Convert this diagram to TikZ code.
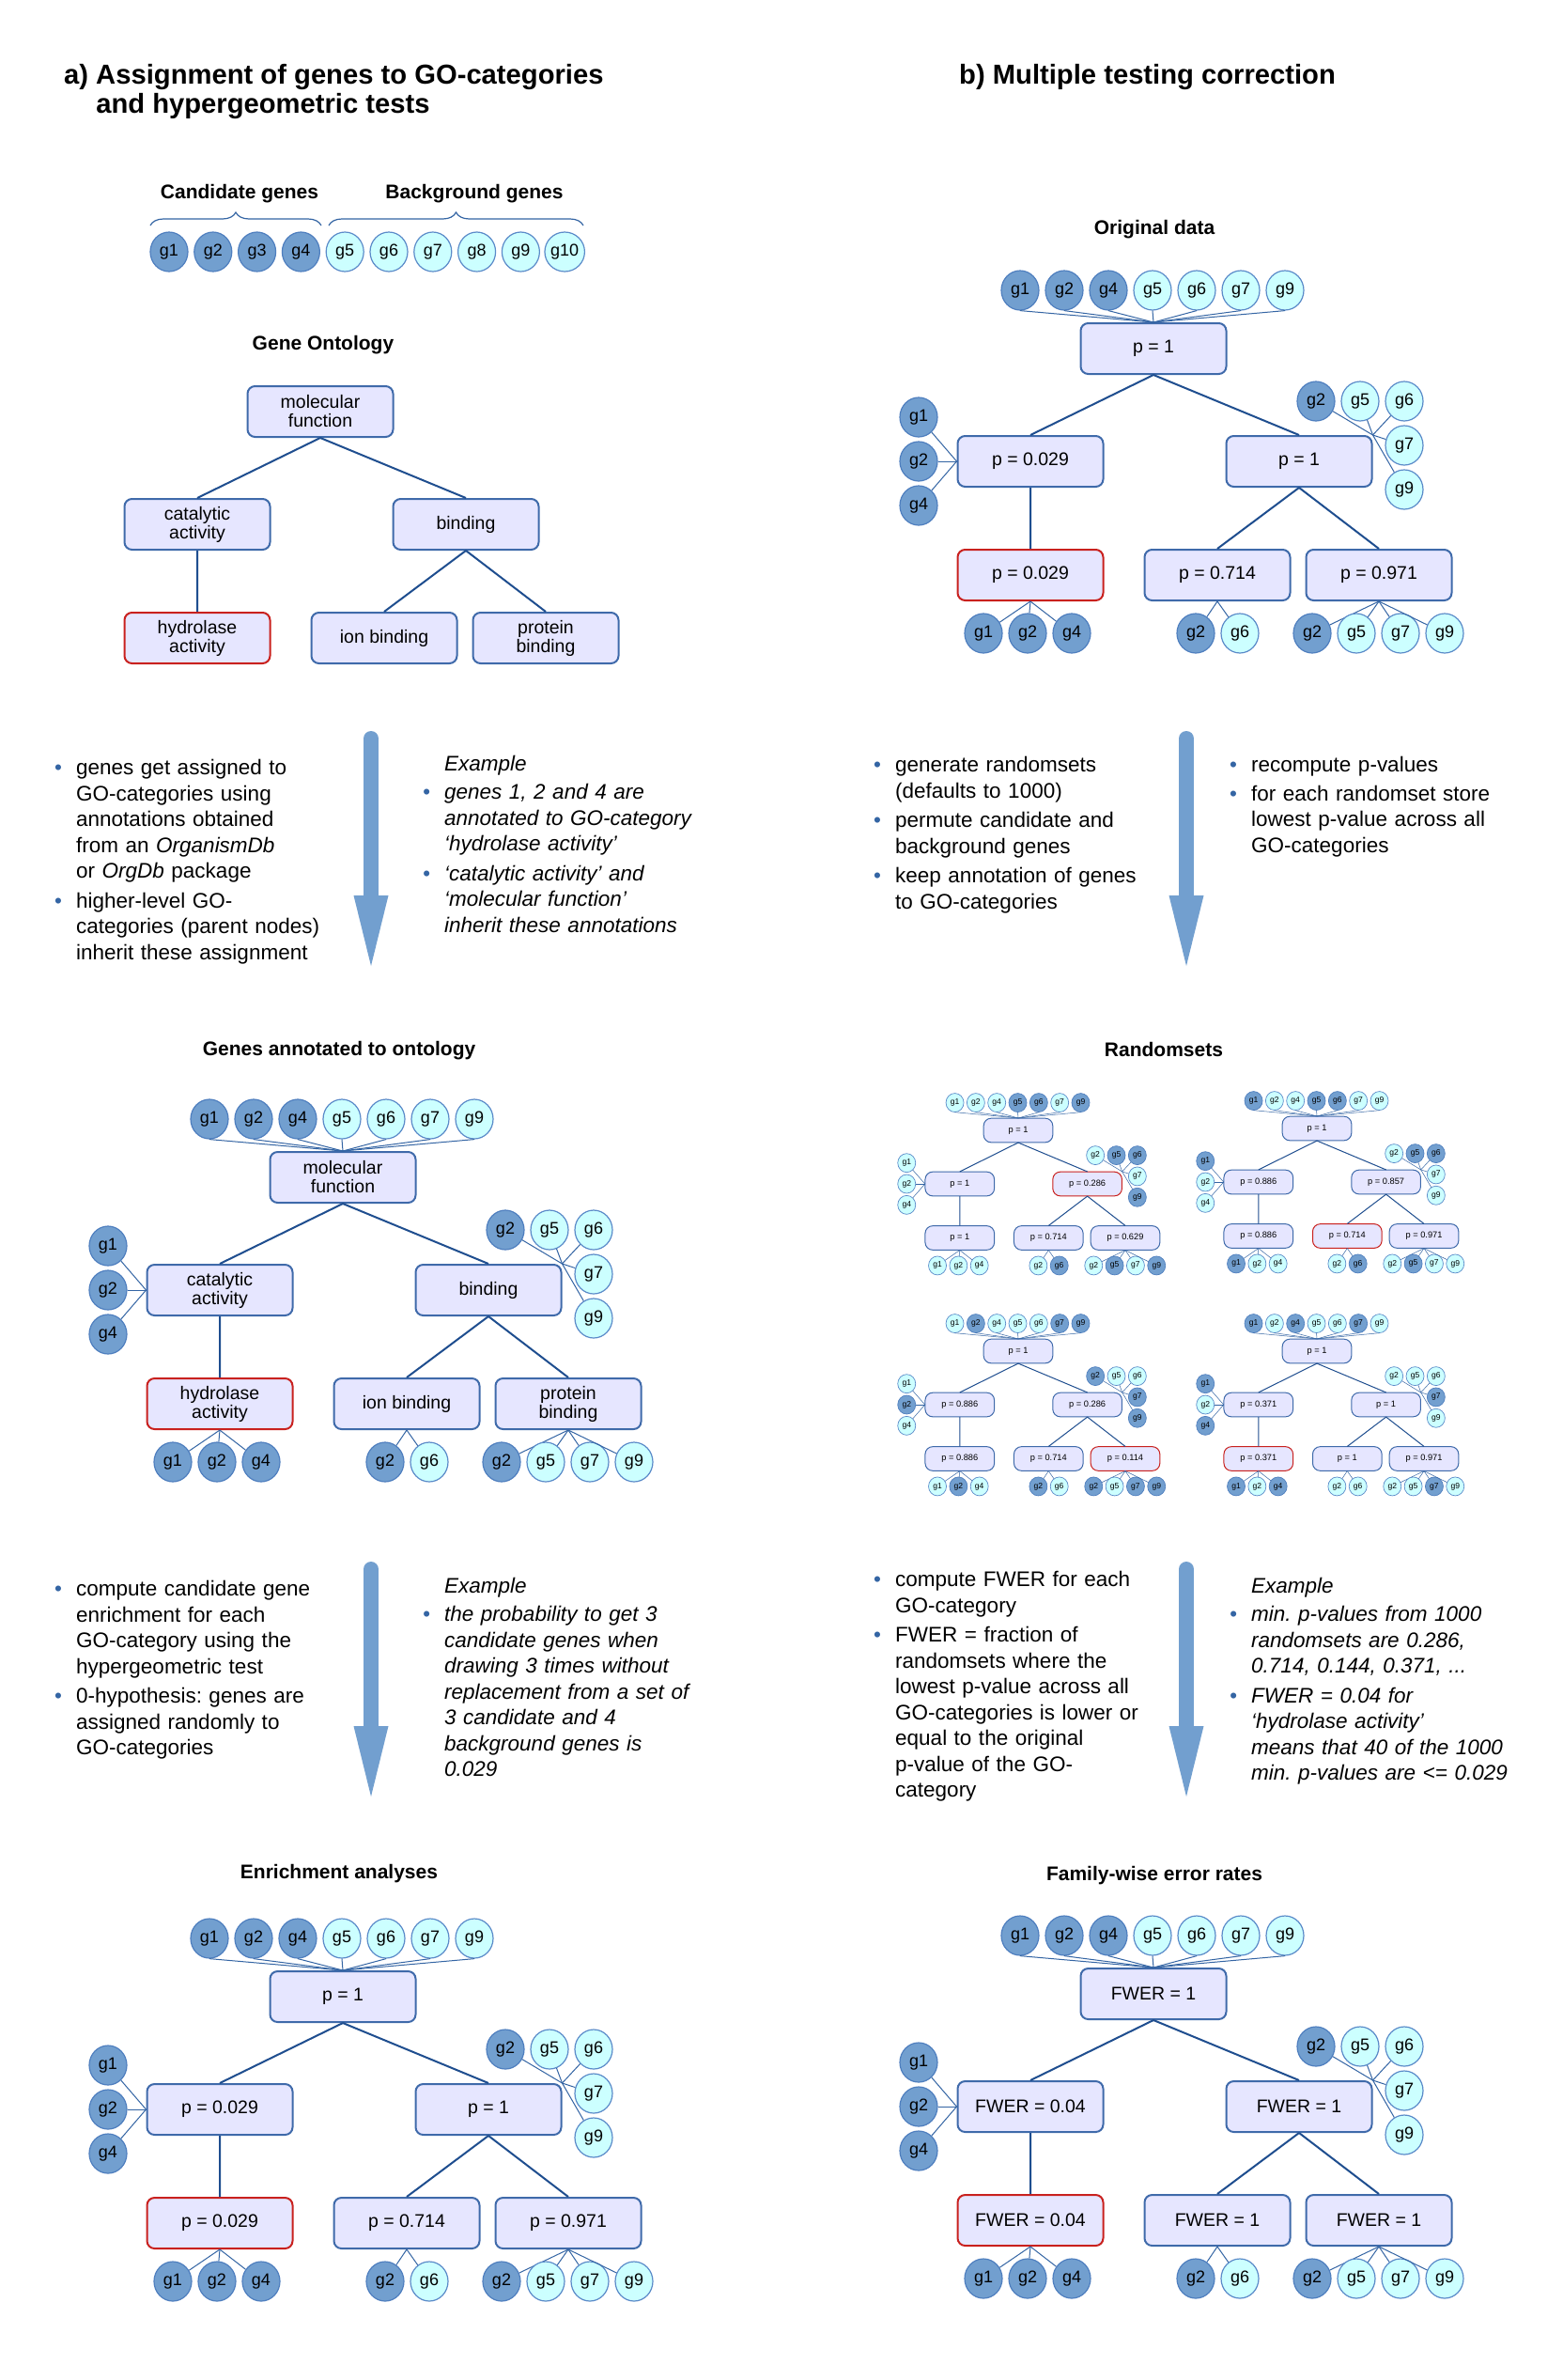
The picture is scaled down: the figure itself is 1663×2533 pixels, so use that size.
\documentclass[tikz,border=0pt]{standalone}
\usepackage{fontspec}
\setmainfont{Liberation Sans}
\usetikzlibrary{shapes.geometric,decorations.pathreplacing}

\definecolor{candfill}{HTML}{729FCF}
\definecolor{candline}{HTML}{4F7FBF}
\definecolor{bgfill}{HTML}{CCFFFF}
\definecolor{bgline}{HTML}{5B8BC9}
\definecolor{boxfill}{HTML}{E6E6FF}
\definecolor{boxline}{HTML}{3F6AAA}
\definecolor{hitred}{HTML}{C9211E}
\definecolor{treeblue}{HTML}{1F4E8F}
\definecolor{linkblue}{HTML}{3465A4}
\definecolor{flowblue}{HTML}{729FCF}

% six GO-categories of the example ontology
\newcommand{\gotree}[8]{%
  \begin{scope}[#2]
    \node[gobox,box1] (#1-t)  at (0,0)       {#3};
    \node[gobox,box2] (#1-l)  at (-131,-120) {#4};
    \node[gobox,box3] (#1-r)  at (155,-120)  {#5};
    \node[gobox,box4] (#1-ll) at (-131,-241) {#6};
    \node[gobox,box5] (#1-rl) at (68,-241)   {#7};
    \node[gobox,box6] (#1-rr) at (240,-241)  {#8};
    \draw[treeline]
      (#1-t.south) -- (#1-l.north)
      (#1-t.south) -- (#1-r.north)
      (#1-l.south) -- (#1-ll.north)
      (#1-r.south) -- (#1-rl.north)
      (#1-r.south) -- (#1-rr.north);
  \end{scope}}

% genes annotated to the categories
\newcommand{\gogenes}[2]{%
  \begin{scope}[#2]
    \foreach \g [count=\i from 0] in {1,2,4,5,6,7,9} {
      \node[gene,gene\g] (#1-t\g) at (-142+47*\i,62) {g\g};
      \draw[genelink] (#1-t\g.south) -- (#1-t.north);
    }
    \foreach \g [count=\i from 0] in {1,2,4} {
      \node[gene,gene\g] (#1-l\g) at (-250,-73-47*\i) {g\g};
      \draw[genelink] (#1-l\g) -- (#1-l.west);
    }
    \foreach \g/\x/\y in {2/173/56,5/220/56,6/267/56,7/267/103,9/267/150} {
      \node[gene,gene\g] (#1-r\g) at (\x,-\y) {g\g};
      \draw[genelink] (#1-r\g) -- (#1-r.north east);
    }
    \foreach \g [count=\i from 0] in {1,2,4} {
      \node[gene,gene\g] (#1-ll\g) at (-181+47*\i,-303) {g\g};
      \draw[genelink] (#1-ll\g) -- (#1-ll.south);
    }
    \foreach \g [count=\i from 0] in {2,6} {
      \node[gene,gene\g] (#1-rl\g) at (45+47*\i,-303) {g\g};
      \draw[genelink] (#1-rl\g) -- (#1-rl.south);
    }
    \foreach \g [count=\i from 0] in {2,5,7,9} {
      \node[gene,gene\g] (#1-rr\g) at (169+47*\i,-303) {g\g};
      \draw[genelink] (#1-rr\g) -- (#1-rr.south);
    }
  \end{scope}}

% one bullet point, lines broken by hand
\newcommand{\bitem}[1]{\par\noindent
  \makebox[23pt][l]{\textcolor{linkblue}{\textbullet}}%
  \parbox[t]{315pt}{\strut#1\strut}}

\begin{document}
\begin{tikzpicture}[
  x=1pt, y=1pt,
  gobox/.style={draw=boxline, fill=boxfill, line width=2pt, rounded corners=8pt,
    minimum width=155pt, minimum height=54pt, inner sep=1pt, align=center,
    font=\fontsize{19.5}{20}\selectfont},
  hitbox/.style={draw=hitred},
  box1/.style={}, box2/.style={}, box3/.style={},
  box4/.style={}, box5/.style={}, box6/.style={},
  gene/.style={ellipse, minimum width=40pt, minimum height=42pt, inner sep=0pt,
    line width=1.2pt, font=\fontsize{18}{18}\selectfont},
  candgene/.style={draw=candline, fill=candfill},
  bggene/.style={draw=bgline, fill=bgfill},
  gene1/.style=bggene, gene2/.style=bggene, gene3/.style=bggene,
  gene4/.style=bggene, gene5/.style=bggene, gene6/.style=bggene,
  gene7/.style=bggene, gene8/.style=bggene, gene9/.style=bggene,
  gene10/.style=bggene,
  treeline/.style={draw=treeblue, line width=2pt},
  genelink/.style={draw=linkblue, line width=1pt},
  genebrace/.style={draw=linkblue, line width=1.2pt, decorate,
    decoration={brace, amplitude=14pt}},
  mini/.style={scale=0.475, transform shape,
    treeline/.append style={line width=1pt},
    genelink/.append style={line width=0.5pt},
    gobox/.append style={line width=1pt},
    gene/.append style={line width=0.7pt}},
  maintree/.style={gene1/.style=candgene, gene2/.style=candgene,
    gene4/.style=candgene, box4/.style=hitbox},
  rs1/.style={shift={(1084,-1203)}, mini, gene5/.style=candgene,
    gene6/.style=candgene, gene9/.style=candgene, box3/.style=hitbox},
  rs2/.style={shift={(1402,-1201)}, mini, gene1/.style=candgene,
    gene5/.style=candgene, gene6/.style=candgene, box5/.style=hitbox},
  rs3/.style={shift={(1084,-1438)}, mini, gene2/.style=candgene,
    gene7/.style=candgene, gene9/.style=candgene, box6/.style=hitbox},
  rs4/.style={shift={(1402,-1438)}, mini, gene1/.style=candgene,
    gene4/.style=candgene, gene7/.style=candgene, box4/.style=hitbox},
  heading/.style={font=\fontsize{21}{25}\selectfont\bfseries},
  bigtitle/.style={anchor=base west, inner sep=0pt,
    font=\fontsize{29.2}{31}\selectfont\bfseries},
  bullets/.style={anchor=north west, inner sep=0pt, text width=340pt,
    font=\fontsize{22.5}{27.5}\selectfont,
    execute at begin node={\setlength{\parskip}{3pt}\frenchspacing}},
  example/.style={bullets, font=\fontsize{22.5}{27.5}\selectfont\itshape},
  flowshaft/.style={draw=flowblue, line width=16pt, line cap=round},
  flowhead/.style={fill=flowblue}
  ]

  \useasboundingbox (0,0) rectangle (1663,-2533);
  \fill[white] (0,0) rectangle (1663,-2533);

  % titles
  \node[bigtitle] (titleA) at (68,-89)
    {a) \begin{tabular}[t]{@{}l@{}}Assignment of genes to GO-categories\\
     and hypergeometric tests\end{tabular}};
  \node[bigtitle] (titleB) at (1021,-89) {b) Multiple testing correction};

  % candidate and background genes
  \node[heading] (candLabel) at (255,-206) {Candidate genes};
  \node[heading] (bgLabel)   at (505,-206) {Background genes};
  \begin{scope}[gene1/.style=candgene, gene2/.style=candgene,
                gene3/.style=candgene, gene4/.style=candgene]
    \foreach \g in {1,...,10}
      \node[gene,gene\g] (c\g) at (133.2+46.8*\g,-268) {g\g};
  \end{scope}
  \coordinate (candL) at (160,-240);
  \coordinate (candR) at (342,-240);
  \coordinate (bgL)   at (350,-240);
  \coordinate (bgR)   at (621,-240);
  \draw[genebrace] (candL) -- (candR);
  \draw[genebrace] (bgL) -- (bgR);

  % ontology
  \node[heading] (hGO) at (344,-367) {Gene Ontology};
  \gotree{go}{shift={(341,-438)}, box4/.style=hitbox}
    {molecular\\function}{catalytic\\activity}{binding}
    {hydrolase\\activity}{ion binding}{protein\\binding}

  % original data
  \node[heading] (hOD) at (1229,-244) {Original data};
  \gotree{od}{shift={(1228,-371)}, maintree}
    {p = 1}{p = 0.029}{p = 1}{p = 0.029}{p = 0.714}{p = 0.971}
  \gogenes{od}{shift={(1228,-371)}, maintree}

  % block arrows
  \foreach \n/\x/\y in {1/395/778, 2/1263/778, 3/395/1662, 4/1263/1662} {
    \coordinate (fa\n s) at (\x,-\y-8);
    \coordinate (fa\n h) at (\x,-\y-176);
    \coordinate (fa\n e) at (\x,-\y-250);
    \draw[flowshaft] (fa\n s) -- (fa\n h);
    \fill[flowhead] ([xshift=-18.5pt,yshift=1pt]fa\n h)
      -- ([xshift=18.5pt,yshift=1pt]fa\n h) -- (fa\n e) -- cycle;
  }

  % explanations, first step
  \node[bullets] (txtA1) at (58,-794) {%
    \bitem{genes get assigned to\newline
      GO-categories using\newline
      annotations obtained\newline
      from an \textit{OrganismDb}\newline
      or \textit{OrgDb} package}
    \bitem{higher-level GO-\newline
      categories (parent nodes)\newline
      inherit these assignment}};
  \node[example] (txtA2) at (450,-801) {%
    \noindent\hspace*{23pt}\strut Example
    \bitem{genes 1, 2 and 4 are\newline
      annotated to GO-category\newline
      ‘hydrolase activity’}
    \bitem{‘catalytic activity’ and\newline
      ‘molecular function’\newline
      inherit these annotations}};
  \node[bullets] (txtB1) at (930,-791) {%
    \bitem{generate  randomsets\newline
      (defaults to 1000)}
    \bitem{permute candidate and\newline
      background genes}
    \bitem{keep annotation of genes\newline
      to GO-categories}};
  \node[bullets] (txtB2) at (1309,-791) {%
    \bitem{recompute p-values}
    \bitem{for each randomset store\newline
      lowest p-value across all\newline
      GO-categories}};

  % annotated ontology
  \node[heading] (hGA) at (361,-1118) {Genes annotated to ontology};
  \gotree{ga}{shift={(365,-1253)}, maintree}
    {molecular\\function}{catalytic\\activity}{binding}
    {hydrolase\\activity}{ion binding}{protein\\binding}
  \gogenes{ga}{shift={(365,-1253)}, maintree}

  % randomsets
  \node[heading] (hRS) at (1239,-1117) {Randomsets};
  \gotree{rsa}{rs1}{p = 1}{p = 1}{p = 0.286}{p = 1}{p = 0.714}{p = 0.629}
  \gogenes{rsa}{rs1}
  \gotree{rsb}{rs2}{p = 1}{p = 0.886}{p = 0.857}{p = 0.886}{p = 0.714}{p = 0.971}
  \gogenes{rsb}{rs2}
  \gotree{rsc}{rs3}{p = 1}{p = 0.886}{p = 0.286}{p = 0.886}{p = 0.714}{p = 0.114}
  \gogenes{rsc}{rs3}
  \gotree{rsd}{rs4}{p = 1}{p = 0.371}{p = 1}{p = 0.371}{p = 1}{p = 0.971}
  \gogenes{rsd}{rs4}

  % explanations, second step
  \node[bullets] (txtA3) at (58,-1668) {%
    \bitem{compute candidate gene\newline
      enrichment for each\newline
      GO-category using the\newline
      hypergeometric test}
    \bitem{0-hypothesis: genes are\newline
      assigned randomly to\newline
      GO-categories}};
  \node[example] (txtA4) at (450,-1676) {%
    \noindent\hspace*{23pt}\strut Example
    \bitem{the probability to get 3\newline
      candidate genes when\newline
      drawing 3 times without\newline
      replacement from a set of\newline
      3 candidate and 4\newline
      background genes is\newline
      0.029}};
  \node[bullets] (txtB3) at (930,-1658) {%
    \bitem{compute FWER for each\newline
      GO-category}
    \bitem{FWER = fraction of\newline
      randomsets where the\newline
      lowest p-value across all\newline
      GO-categories is lower or\newline
      equal to the original\newline
      p-value of the GO-\newline
      category}};
  \node[example] (txtB4) at (1309,-1676) {%
    \noindent\hspace*{23pt}\strut Example
    \bitem{min. p-values from 1000\newline
      randomsets are 0.286,\newline
      0.714, 0.144, 0.371, ...}
    \bitem{FWER = 0.04 for\newline
      ‘hydrolase activity’\newline
      means that 40 of the 1000\newline
      min. p-values are <= 0.029}};

  % enrichment
  \node[heading] (hEA) at (361,-1994) {Enrichment analyses};
  \gotree{ea}{shift={(365,-2125)}, maintree}
    {p = 1}{p = 0.029}{p = 1}{p = 0.029}{p = 0.714}{p = 0.971}
  \gogenes{ea}{shift={(365,-2125)}, maintree}

  % family-wise error rates
  \node[heading] (hFW) at (1229,-1996) {Family-wise error rates};
  \gotree{fw}{shift={(1228,-2122)}, maintree}
    {FWER = 1}{FWER = 0.04}{FWER = 1}{FWER = 0.04}{FWER = 1}{FWER = 1}
  \gogenes{fw}{shift={(1228,-2122)}, maintree}
\end{tikzpicture}
\end{document}
